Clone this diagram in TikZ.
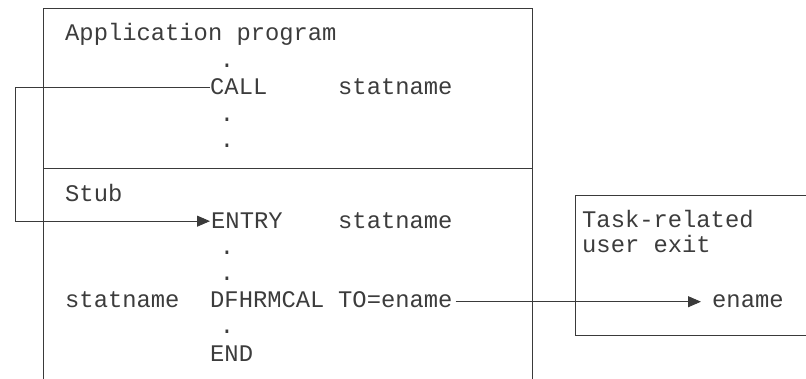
\documentclass[tikz,border=0pt]{standalone}
\usepackage{fontspec}
\setmonofont{Liberation Mono}
\usetikzlibrary{arrows.meta}
\definecolor{linegray}{HTML}{3A3A3A}
\definecolor{textgray}{HTML}{3C3C3C}

\begin{document}
\begin{tikzpicture}[x=1pt,y=-1pt,
		code/.style={anchor=base west, inner sep=0pt, text=textgray, font=\ttfamily\fontsize{23.8}{26.7}\selectfont},
		dotmark/.style={code, anchor=base},
		wire/.style={draw=linegray, line width=0.9pt},
		arrowline/.style={wire, -{Triangle[length=13pt,width=11pt]}}]
		\useasboundingbox (0,0) rectangle (806,379);
		%
		\draw [wire] (43,379) -- (43,8) -- (532,8) -- (532,379);
		\draw [wire] (43,168) -- (532,168);
		%
		\node (app) [code] at (65,41) {Application program};
		\node (d1) [dotmark] at (227,68) {.};
		\node (call) [code] at (210,95) {CALL};
		\node (callname) [code] at (338,95) {statname};
		\node (d2) [dotmark] at (227,122) {.};
		\node (d3) [dotmark] at (227,148) {.};
		%
		\node (stub) [code] at (65,202) {Stub};
		\node (entry) [code] at (211,229) {ENTRY};
		\node (entryname) [code] at (338,229) {statname};
		\node (d4) [dotmark] at (227,255) {.};
		\node (d5) [dotmark] at (227,281) {.};
		\node (label) [code] at (65,308) {statname};
		\node (macro) [code] at (210,308) {DFHRMCAL};
		\node (toename) [code] at (338,308) {TO=ename};
		\node (d6) [dotmark] at (227,334) {.};
		\node (endst) [code] at (210,362) {END};
		%
		\draw [wire] (806,195) -- (575,195) -- (575,335) -- (806,335);
		\node (exit1) [code] at (582,228) {Task-related};
		\node (exit2) [code] at (582,253) {user exit};
		\node (ename) [code] at (712,308) {ename};
		%
		\coordinate (loopx) at (15,0);
		\draw [arrowline, shorten >=1pt] (call.west) -- (call.west -| loopx) |- (entry.west);
		\draw [arrowline, shorten <=3pt, shorten >=11pt] (toename.east |- ename.west) -- (ename.west);
	\end{tikzpicture}
\end{document}
